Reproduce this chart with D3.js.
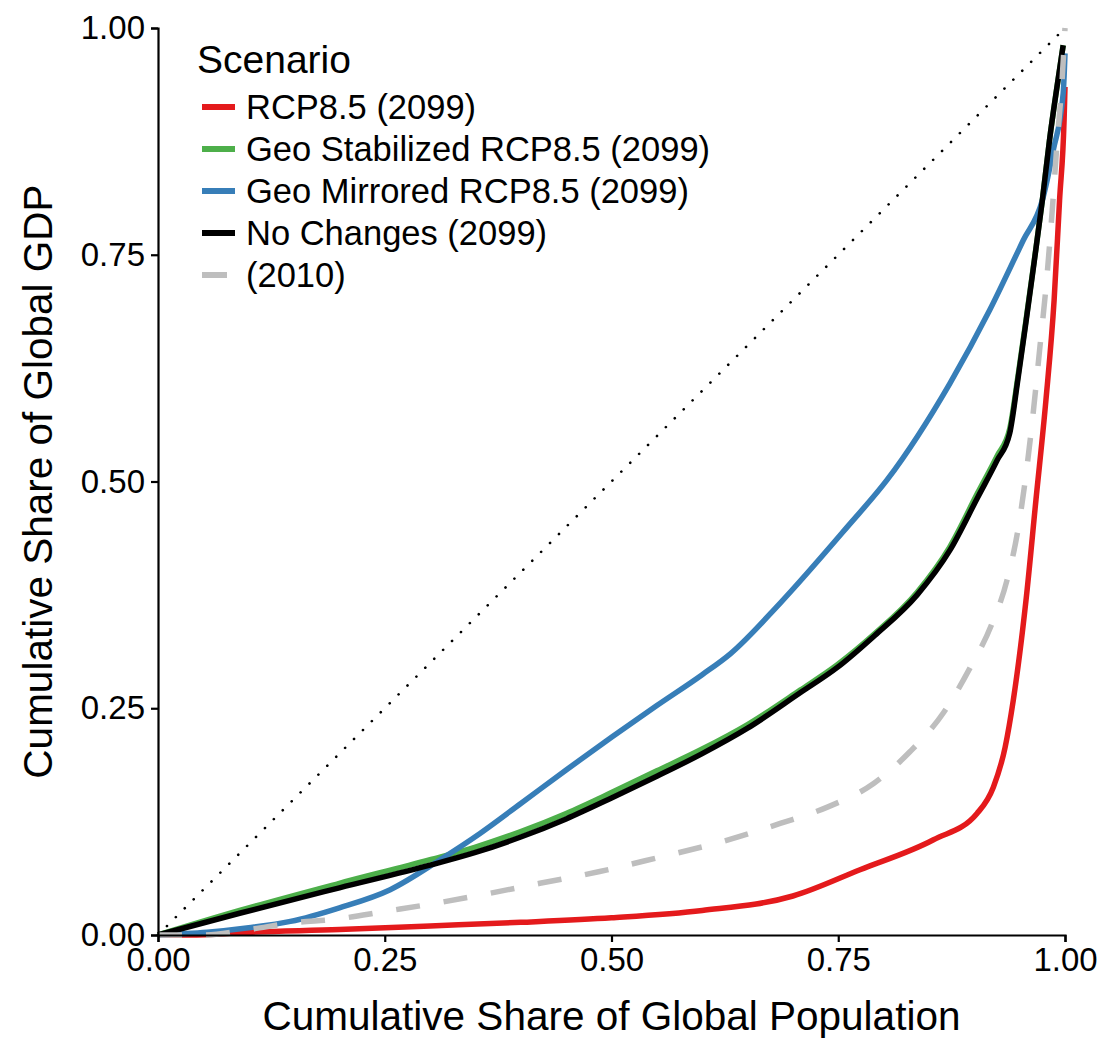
<!DOCTYPE html>
<html><head><meta charset="utf-8">
<script src="https://cdn.jsdelivr.net/npm/d3@7/dist/d3.min.js"></script>
<style>body{margin:0;background:#fff}svg{display:block;font-family:"Liberation Sans",Arial,sans-serif}</style>
</head><body><svg id="c" width="1105" height="1039"></svg>
<script>
const xTicks = [0, 0.25, 0.5, 0.75, 1.0];
const yTicks = [0, 0.25, 0.5, 0.75, 1.0];
const scenarios = ["RCP8.5 (2099)", "Geo Stabilized RCP8.5 (2099)", "Geo Mirrored RCP8.5 (2099)", "No Changes (2099)", "(2010)"];
const colors = ["#E41A1C", "#4DAF4A", "#377EB8", "#000000", "#BEBEBE"];

const redX = [0, 0.035, 0.1, 0.2, 0.3, 0.4, 0.5, 0.6, 0.7, 0.774, 0.855, 0.903, 0.921, 0.934, 0.943, 0.957, 0.968, 0.979, 0.988, 0.994, 0.999, 1.0];
const redY = [0, 0.0, 0.003, 0.006, 0.010, 0.014, 0.019, 0.027, 0.043, 0.072, 0.105, 0.134, 0.163, 0.207, 0.259, 0.369, 0.48, 0.59, 0.70, 0.81, 0.899, 0.935];

const greenX = [0, 0.09, 0.2, 0.3, 0.35, 0.4, 0.45, 0.5, 0.55, 0.6, 0.65, 0.708, 0.749, 0.79, 0.837, 0.873, 0.904, 0.925, 0.939, 0.948, 0.957, 0.966, 0.975, 0.983, 0.991, 0.998];
const greenY = [0, 0.027, 0.057, 0.083, 0.097, 0.114, 0.134, 0.157, 0.181, 0.205, 0.232, 0.27, 0.298, 0.332, 0.378, 0.428, 0.488, 0.528, 0.558, 0.615, 0.678, 0.743, 0.81, 0.877, 0.934, 0.981];

const blueX = [0, 0.054, 0.1, 0.146, 0.2, 0.256, 0.311, 0.355, 0.4, 0.45, 0.5, 0.55, 0.6, 0.631, 0.686, 0.76, 0.804, 0.873, 0.917, 0.954, 0.975, 0.987, 0.998, 1.0];
const blueY = [0, 0.003, 0.008, 0.015, 0.03, 0.05, 0.083, 0.112, 0.145, 0.182, 0.218, 0.253, 0.287, 0.31, 0.366, 0.45, 0.502, 0.608, 0.689, 0.766, 0.81, 0.865, 0.928, 0.972];

const blackX = [0, 0.09, 0.2, 0.3, 0.35, 0.4, 0.45, 0.5, 0.55, 0.6, 0.65, 0.708, 0.749, 0.79, 0.837, 0.873, 0.904, 0.925, 0.939, 0.948, 0.957, 0.966, 0.975, 0.983, 0.991, 0.998];
const blackY = [0, 0.024, 0.052, 0.077, 0.091, 0.108, 0.128, 0.151, 0.175, 0.2, 0.228, 0.267, 0.295, 0.33, 0.375, 0.424, 0.483, 0.523, 0.553, 0.612, 0.676, 0.742, 0.81, 0.877, 0.934, 0.981];

const greyX = [0, 0.05, 0.1, 0.146, 0.2, 0.25, 0.3, 0.366, 0.421, 0.487, 0.55, 0.622, 0.686, 0.738, 0.789, 0.829, 0.866, 0.895, 0.919, 0.936, 0.948, 0.956, 0.964, 0.972, 0.98, 0.986, 0.991, 0.997, 1.0];
const greyY = [0, 0.0, 0.006, 0.013, 0.018, 0.026, 0.034, 0.046, 0.057, 0.07, 0.085, 0.103, 0.123, 0.141, 0.167, 0.202, 0.245, 0.294, 0.342, 0.391, 0.446, 0.50, 0.567, 0.645, 0.725, 0.80, 0.87, 0.946, 1.0];

const seriesX = [redX, greenX, blueX, blackX, greyX];
const seriesY = [redY, greenY, blueY, blackY, greyY];

const svg = d3.select("#c");
const x = d3.scaleLinear().domain([0, 1]).range([158, 1065]);
const y = d3.scaleLinear().domain([0, 1]).range([935, 28]);

// diagonal reference
svg.append("path")
  .attr("d", d3.line()([[x(0), y(0)], [x(1), y(1)]]))
  .attr("stroke", "#000").attr("stroke-width", 2.6)
  .attr("stroke-dasharray", "0.1,12.5").attr("stroke-linecap", "round").attr("fill", "none");

const line = d3.line().x(d => x(d[0])).y(d => y(d[1])).curve(d3.curveMonotoneX);
scenarios.forEach((s, i) => {
  const pts = seriesX[i].map((v, j) => [v, seriesY[i][j]]);
  svg.append("path").attr("d", line(pts))
    .attr("fill", "none").attr("stroke", colors[i]).attr("stroke-width", 5.5)
    .attr("stroke-dasharray", i === 4 ? "24,24" : null);
});

// axes
const fmt = d3.format(".2f");
const xAxis = svg.append("g").attr("transform", "translate(0,935)")
  .call(d3.axisBottom(x).tickValues(xTicks).tickFormat(fmt).tickSize(7).tickPadding(6));
const yAxis = svg.append("g").attr("transform", "translate(158,0)")
  .call(d3.axisLeft(y).tickValues(yTicks).tickFormat(fmt).tickSize(7).tickPadding(6));
[xAxis, yAxis].forEach(g => {
  g.select(".domain").attr("stroke", "#000").attr("stroke-width", 2.2);
  g.selectAll(".tick line").attr("stroke", "#000").attr("stroke-width", 2.2);
  g.selectAll(".tick text").attr("fill", "#000").style("font-size", "33px")
    .style("font-family", '"Liberation Sans",Arial,sans-serif');
});

svg.append("text").attr("x", x(0.5)).attr("y", 1030).attr("text-anchor", "middle")
  .style("font-size", "40.5px").text("Cumulative Share of Global Population");
svg.append("text").attr("transform", `translate(52,${y(0.5)}) rotate(-90)`).attr("text-anchor", "middle")
  .style("font-size", "40.5px").text("Cumulative Share of Global GDP");

// legend
const lg = svg.append("g");
lg.append("text").attr("x", 197).attr("y", 73).style("font-size", "39px").text("Scenario");
scenarios.forEach((s, i) => {
  const yy = 107 + i * 42;
  lg.append("line").attr("x1", 202).attr("x2", i === 4 ? 227 : 235).attr("y1", yy).attr("y2", yy)
    .attr("stroke", colors[i]).attr("stroke-width", 6);
  lg.append("text").attr("x", 246).attr("y", yy + 12).style("font-size", "34.5px").text(s);
});
</script></body></html>
